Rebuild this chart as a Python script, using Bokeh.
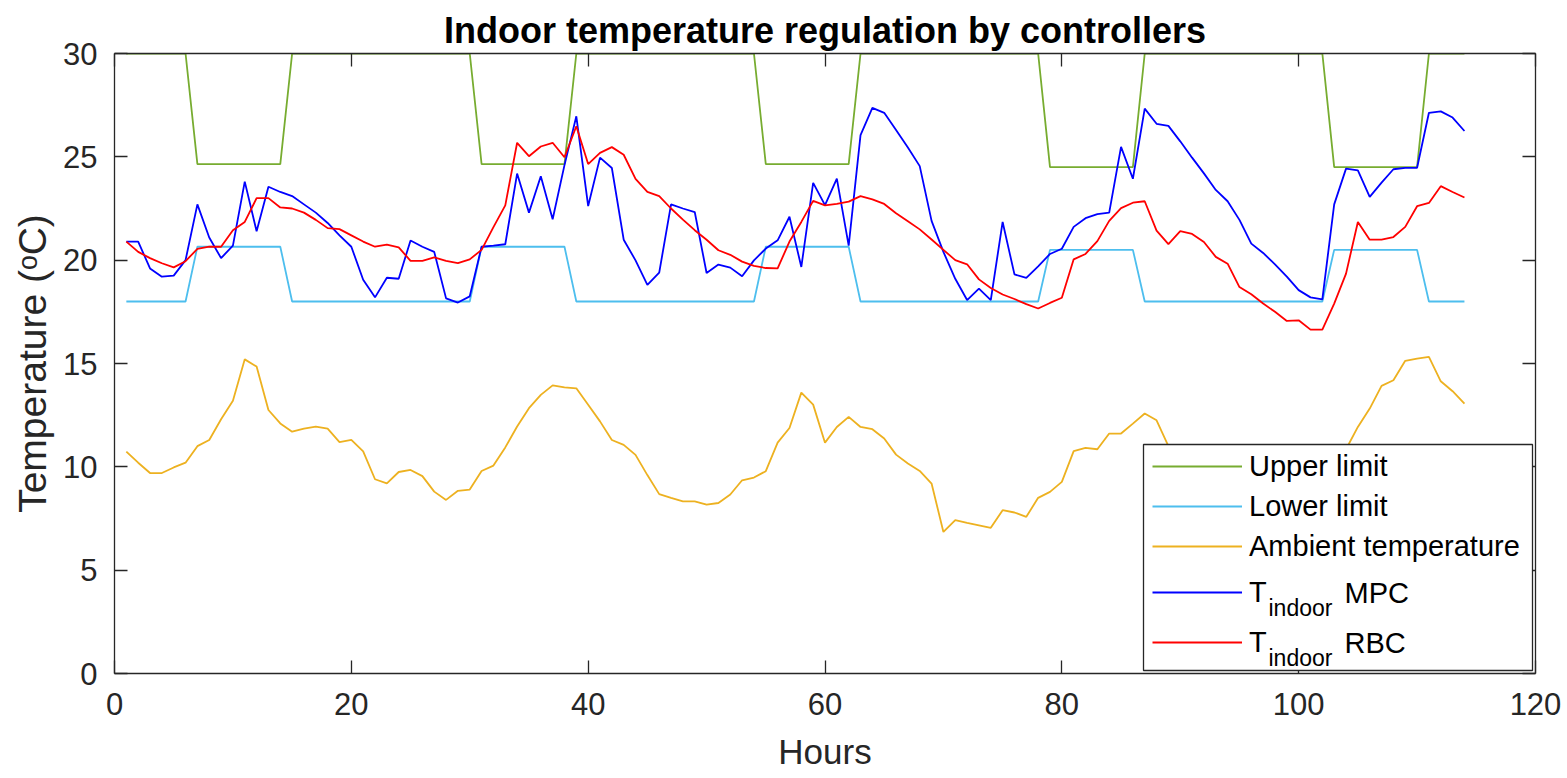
from bokeh.plotting import figure
from bokeh.models import (LinearAxis, SingleIntervalTicker, Legend, LegendItem,
                          BoxAnnotation, Label, CustomJSTickFormatter, Range1d)
from bokeh.embed import file_html
from bokeh.resources import INLINE

# ---- data -------------------------------------------------------------
hours = list(range(1, 115))

upper_limit = [
    30, 30, 30, 30, 30, 30,
    24.65, 24.65, 24.65, 24.65, 24.65, 24.65, 24.65, 24.65,
    30, 30, 30, 30, 30, 30, 30, 30, 30, 30, 30, 30, 30, 30, 30, 30,
    24.65, 24.65, 24.65, 24.65, 24.65, 24.65, 24.65, 24.65,
    30, 30, 30, 30, 30, 30, 30, 30, 30, 30, 30, 30, 30, 30, 30, 30,
    24.65, 24.65, 24.65, 24.65, 24.65, 24.65, 24.65, 24.65,
    30, 30, 30, 30, 30, 30, 30, 30, 30, 30, 30, 30, 30, 30, 30, 30,
    24.5, 24.5, 24.5, 24.5, 24.5, 24.5, 24.5, 24.5,
    30, 30, 30, 30, 30, 30, 30, 30, 30, 30, 30, 30, 30, 30, 30, 30,
    24.5, 24.5, 24.5, 24.5, 24.5, 24.5, 24.5, 24.5,
    30, 30, 30, 30,
]

lower_limit = [
    18, 18, 18, 18, 18, 18,
    20.65, 20.65, 20.65, 20.65, 20.65, 20.65, 20.65, 20.65,
    18, 18, 18, 18, 18, 18, 18, 18, 18, 18, 18, 18, 18, 18, 18, 18,
    20.65, 20.65, 20.65, 20.65, 20.65, 20.65, 20.65, 20.65,
    18, 18, 18, 18, 18, 18, 18, 18, 18, 18, 18, 18, 18, 18, 18, 18,
    20.65, 20.65, 20.65, 20.65, 20.65, 20.65, 20.65, 20.65,
    18, 18, 18, 18, 18, 18, 18, 18, 18, 18, 18, 18, 18, 18, 18, 18,
    20.5, 20.5, 20.5, 20.5, 20.5, 20.5, 20.5, 20.5,
    18, 18, 18, 18, 18, 18, 18, 18, 18, 18, 18, 18, 18, 18, 18, 18,
    20.5, 20.5, 20.5, 20.5, 20.5, 20.5, 20.5, 20.5,
    18, 18, 18, 18,
]

ambient_temp = [
    10.74, 10.2, 9.7, 9.7, 9.97, 10.2, 11.0, 11.3, 12.3, 13.2,
    15.2, 14.85, 12.75, 12.1, 11.7, 11.85, 11.95, 11.85, 11.2, 11.3,
    10.75, 9.4, 9.2, 9.75, 9.85, 9.55, 8.8, 8.4, 8.84, 8.9,
    9.8, 10.06, 10.94, 11.95, 12.84, 13.48, 13.94, 13.84, 13.8, 13.0,
    12.2, 11.3, 11.06, 10.58, 9.6, 8.68, 8.5, 8.33, 8.33, 8.17,
    8.25, 8.66, 9.35, 9.48, 9.79, 11.17, 11.88, 13.59, 13.01, 11.17,
    11.93, 12.42, 11.93, 11.82, 11.37, 10.59, 10.16, 9.8, 9.19, 6.85,
    7.42, 7.29, 7.17, 7.05, 7.9, 7.79, 7.58, 8.5, 8.79, 9.27,
    10.76, 10.92, 10.85, 11.61, 11.61, 12.09, 12.58, 12.25, 11.0, 10.3,
    9.6, 9.1, 8.7, 8.2, 7.9, 7.6, 7.4, 7.3, 7.5, 8.0,
    8.7, 9.5, 10.2, 10.85, 11.93, 12.82, 13.92, 14.19, 15.13, 15.24,
    15.32, 14.14, 13.66, 13.06,
]

t_indoor_mpc = [
    20.9, 20.9, 19.6, 19.2, 19.25, 20.0, 22.7, 21.1, 20.1, 20.7,
    23.8, 21.4, 23.55, 23.3, 23.1, 22.7, 22.3, 21.8, 21.2, 20.65,
    19.05, 18.2, 19.15, 19.1, 20.95, 20.65, 20.4, 18.15, 17.95, 18.25,
    20.65, 20.7, 20.77, 24.19, 22.3, 24.06, 21.98, 24.6, 26.96, 22.62,
    24.96, 24.46, 20.99, 19.99, 18.8, 19.4, 22.7, 22.5, 22.33, 19.38,
    19.79, 19.64, 19.22, 19.99, 20.56, 20.96, 22.1, 19.67, 23.74, 22.66,
    23.95, 20.7, 26.05, 27.37, 27.13, 26.3, 25.45, 24.55, 21.9, 20.4,
    19.1, 18.07, 18.62, 18.07, 21.85, 19.31, 19.14, 19.7, 20.3, 20.55,
    21.61, 22.03, 22.23, 22.3, 25.48, 23.94, 27.33, 26.6, 26.5, 25.75,
    24.96, 24.2, 23.4, 22.85, 21.95, 20.8, 20.35, 19.8, 19.2, 18.55,
    18.2, 18.1, 22.7, 24.43, 24.35, 23.06, 23.75, 24.4, 24.47, 24.47,
    27.13, 27.2, 26.9, 26.25,
]

t_indoor_rbc = [
    20.9, 20.4, 20.1, 19.85, 19.65, 19.95, 20.55, 20.65, 20.65, 21.45,
    21.85, 23.0, 23.0, 22.55, 22.5, 22.3, 21.95, 21.55, 21.5, 21.2,
    20.9, 20.65, 20.75, 20.62, 19.97, 19.97, 20.13, 19.97, 19.86, 20.04,
    20.5, 21.6, 22.65, 25.68, 25.03, 25.5, 25.68, 24.98, 26.48, 24.65,
    25.19, 25.47, 25.1, 23.93, 23.3, 23.1, 22.5, 21.96, 21.45, 20.99,
    20.48, 20.26, 19.93, 19.72, 19.62, 19.6, 20.9, 21.85, 22.87, 22.65,
    22.72, 22.83, 23.1, 22.94, 22.72, 22.27, 21.88, 21.49, 21.0, 20.5,
    20.0, 19.8, 19.07, 18.65, 18.34, 18.12, 17.87, 17.66, 17.93, 18.18,
    20.04, 20.3, 20.92, 21.9, 22.52, 22.78, 22.85, 21.43, 20.78, 21.4,
    21.27, 20.88, 20.16, 19.83, 18.7, 18.35, 17.9, 17.5, 17.06, 17.09,
    16.64, 16.64, 17.9, 19.35, 21.85, 20.99, 20.99, 21.12, 21.61, 22.61,
    22.77, 23.58, 23.3, 23.03,
]

# ---- styling ----------------------------------------------------------
FONT = "Liberation Sans"
AXIS_COLOR = "#262626"
C_UPPER = "#77AC30"
C_LOWER = "#4DBEEE"
C_AMBIENT = "#EDB120"
C_MPC = "#0000FF"
C_RBC = "#FF0000"
LW = 1.8

p = figure(
    width=1567, height=778,
    x_range=Range1d(0, 120), y_range=Range1d(0, 30),
    output_backend="svg", toolbar_location=None,
    min_border_left=114, min_border_right=32,
    min_border_top=53, min_border_bottom=105,
    x_axis_label="Hours", y_axis_label="Temperature (\u1d52C)",
)
p.background_fill_color = "white"
p.border_fill_color = "white"
p.outline_line_color = None
p.grid.visible = False

p.title.text = "Indoor temperature regulation by controllers"
p.title.align = "center"
p.title.text_font = FONT
p.title.text_font_size = "36px"
p.title.text_font_style = "bold"
p.title.text_color = "#000000"
p.title.standoff = 5

r_up = p.line(hours, upper_limit, line_color=C_UPPER, line_width=LW)
r_lo = p.line(hours, lower_limit, line_color=C_LOWER, line_width=LW)
r_amb = p.line(hours, ambient_temp, line_color=C_AMBIENT, line_width=LW)
r_mpc = p.line(hours, t_indoor_mpc, line_color=C_MPC, line_width=LW)
r_rbc = p.line(hours, t_indoor_rbc, line_color=C_RBC, line_width=LW)


def style_axis(ax, show_labels=True):
    ax.axis_line_color = AXIS_COLOR
    ax.axis_line_width = 1.3
    ax.major_tick_line_color = AXIS_COLOR
    ax.major_tick_line_width = 1.3
    ax.major_tick_in = 13
    ax.major_tick_out = 0
    ax.minor_tick_line_color = None
    if show_labels:
        ax.major_label_text_font = FONT
        ax.major_label_text_font_size = "31px"
        ax.major_label_text_color = AXIS_COLOR
        ax.axis_label_text_font = FONT
        ax.axis_label_text_font_size = "35px"
        ax.axis_label_text_font_style = "normal"
        ax.axis_label_text_color = AXIS_COLOR
    else:
        ax.formatter = CustomJSTickFormatter(code="return ''")
        ax.major_label_text_font_size = "0px"
        ax.major_label_standoff = 0


p.xaxis.ticker = SingleIntervalTicker(interval=20, num_minor_ticks=0)
p.yaxis.ticker = SingleIntervalTicker(interval=5, num_minor_ticks=0)
style_axis(p.xaxis[0])
style_axis(p.yaxis[0])
p.xaxis.major_label_standoff = 19
p.xaxis.axis_label_standoff = 14
p.yaxis.major_label_standoff = 17
p.yaxis.axis_label_standoff = 6
p.yaxis.axis_label_text_font_size = "39px"

top_axis = LinearAxis(ticker=SingleIntervalTicker(interval=20, num_minor_ticks=0))
right_axis = LinearAxis(ticker=SingleIntervalTicker(interval=5, num_minor_ticks=0))
style_axis(top_axis, show_labels=False)
style_axis(right_axis, show_labels=False)
p.add_layout(top_axis, "above")
p.add_layout(right_axis, "right")

# ---- legend -----------------------------------------------------------
legend_box = BoxAnnotation(
    left=1029, right=1418, bottom=3, top=229,
    left_units="screen", right_units="screen",
    bottom_units="screen", top_units="screen",
    fill_color="white", fill_alpha=1.0,
    line_color=AXIS_COLOR, line_width=1.3, line_alpha=1.0,
)
p.add_layout(legend_box)

legend_common = dict(
    padding=0, margin=0, spacing=0,
    glyph_width=90, label_standoff=7,
    label_text_font=FONT, label_text_font_size="29px",
    label_text_color="#000000",
    background_fill_alpha=0, border_line_alpha=0,
)
legend_limits = Legend(
    items=[
        LegendItem(label="Upper limit", renderers=[r_up]),
        LegendItem(label="Lower limit", renderers=[r_lo]),
        LegendItem(label="Ambient temperature", renderers=[r_amb]),
    ],
    location=(1038, 107), glyph_height=40, label_height=40,
    **legend_common,
)
legend_indoor = Legend(
    items=[
        LegendItem(label="T", renderers=[r_mpc]),
        LegendItem(label="T", renderers=[r_rbc]),
    ],
    location=(1038, 6), glyph_height=50, label_height=50,
    label_text_baseline="alphabetic",
    **legend_common,
)
p.add_layout(legend_limits)
p.add_layout(legend_indoor)

# subscripted parts of the indoor-temperature entries
for base_y, name in ((81, "MPC"), (31, "RBC")):
    p.add_layout(Label(x=1154, y=base_y - 15, x_units="screen", y_units="screen",
                       text="indoor", text_font=FONT, text_font_size="23px",
                       text_color="#000000", text_baseline="alphabetic"))
    p.add_layout(Label(x=1230, y=base_y, x_units="screen", y_units="screen",
                       text=name, text_font=FONT, text_font_size="29px",
                       text_color="#000000", text_baseline="alphabetic"))

open("out.html", "w").write(file_html(p, INLINE))
